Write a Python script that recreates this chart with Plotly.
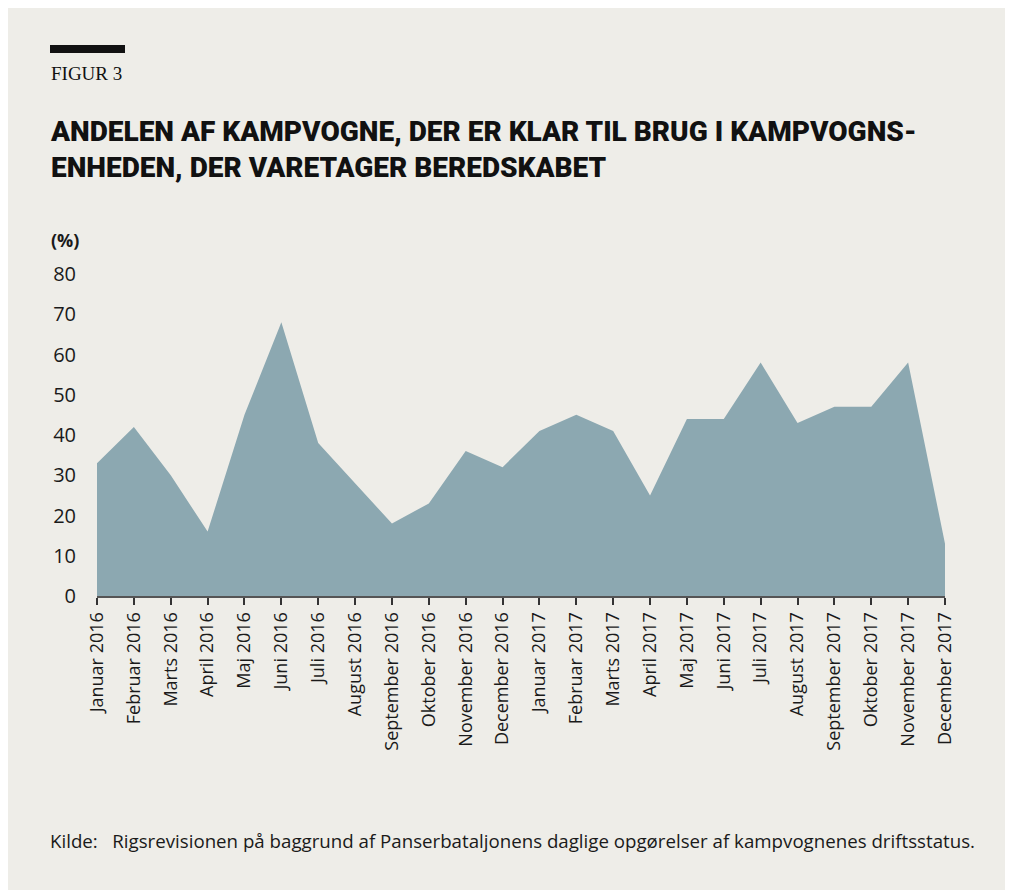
import plotly.graph_objects as go

months = ["Januar 2016", "Februar 2016", "Marts 2016", "April 2016", "Maj 2016", "Juni 2016",
          "Juli 2016", "August 2016", "September 2016", "Oktober 2016", "November 2016", "December 2016",
          "Januar 2017", "Februar 2017", "Marts 2017", "April 2017", "Maj 2017", "Juni 2017",
          "Juli 2017", "August 2017", "September 2017", "Oktober 2017", "November 2017", "December 2017"]
values = [33, 42, 30, 16, 45, 68, 38, 28, 18, 23, 36, 32,
          41, 45, 41, 25, 44, 44, 58, 43, 47, 47, 58, 13]
y_ticks = [0, 10, 20, 30, 40, 50, 60, 70, 80]

BG = "#EEEDE8"
FILL = "#8CA8B1"

OFF = 8  # page offset of the figure
W, H = 1021, 898
L, R, T, B = 97 - OFF, 945 - OFF, 274 - OFF, 596 - OFF


def px(x):
    return (x - OFF - L) / (R - L)


def py(y):
    return (B - (y - OFF)) / (B - T)


fig = go.Figure()
fig.add_trace(go.Scatter(
    x=months, y=values, mode="lines", fill="tozeroy",
    fillcolor=FILL, line=dict(width=0, color=FILL), hoverinfo="x+y",
))

fig.update_layout(
    width=W, height=H,
    margin=dict(l=L, r=W - R, t=T, b=H - B, pad=0),
    paper_bgcolor=BG, plot_bgcolor=BG,
    showlegend=False,
    font=dict(family="Open Sans, sans-serif", color="#1a1a1a"),
    xaxis=dict(
        type="category", range=[0, len(months) - 1], showgrid=False, zeroline=False,
        showline=True, linecolor="#555555", linewidth=2,
        ticks="outside", ticklen=7, tickwidth=1.5, tickcolor="#333333",
        tickangle=-90, tickfont=dict(size=18, color="#1a1a1a"),
    ),
    yaxis=dict(
        range=[0, 80], tickvals=y_ticks, showgrid=False, zeroline=False, showline=False,
        ticks="", ticklabelstandoff=20, tickfont=dict(size=20, color="#1a1a1a"),
    ),
    shapes=[dict(type="rect", xref="paper", yref="paper",
                 x0=px(50), x1=px(125), y0=py(53), y1=py(45),
                 fillcolor="#111111", line=dict(width=0))],
    annotations=[
        dict(text="FIGUR 3", xref="paper", yref="paper", x=px(49), y=py(74),
             xanchor="left", yanchor="middle", showarrow=False,
             font=dict(family="Liberation Serif, serif", size=19, color="#111111")),
        dict(text="ANDELEN AF KAMPVOGNE, DER ER KLAR TIL BRUG I KAMPVOGNS-<br>ENHEDEN, DER VARETAGER BEREDSKABET",
             xref="paper", yref="paper", x=px(48), y=py(149),
             xanchor="left", yanchor="middle", align="left", showarrow=False,
             font=dict(family="Roboto, sans-serif", size=28, weight=900, color="#111111")),
        dict(text="<b>(%)</b>", xref="paper", yref="paper", x=px(49), y=py(240),
             xanchor="left", yanchor="middle", showarrow=False,
             font=dict(family="Open Sans, sans-serif", size=18, color="#1a1a1a")),
        dict(text="Kilde:   Rigsrevisionen på baggrund af Panserbataljonens daglige opgørelser af kampvognenes driftsstatus.",
             xref="paper", yref="paper", x=px(48), y=py(840),
             xanchor="left", yanchor="middle", showarrow=False,
             font=dict(family="Open Sans, sans-serif", size=18.7, color="#1a1a1a")),
    ],
)

fig.write_html("out.html")
